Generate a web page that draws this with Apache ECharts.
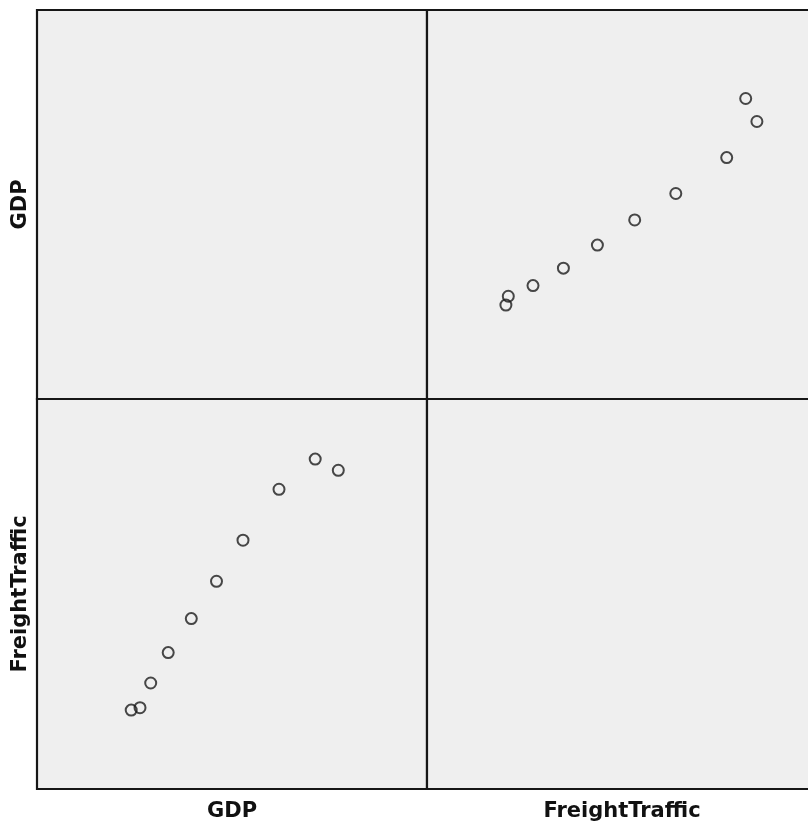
<!DOCTYPE html>
<html>
<head>
<meta charset="utf-8">
<script src="https://cdn.jsdelivr.net/npm/echarts@6/dist/echarts.min.js"></script>
<style>
html,body{margin:0;padding:0;background:#fff;overflow:hidden;width:808px;height:827px;}
#chart{width:818px;height:827px;}
</style>
</head>
<body>
<div id="chart"></div>
<script>
// Variables of the scatter-plot matrix
const variables = ['GDP', 'FreightTraffic'];
const gdp = [942, 1030, 1137, 1312, 1543, 1795, 2060, 2420, 2782, 3013];
const freightTraffic = [789, 813, 1060, 1364, 1704, 2077, 2488, 2997, 3299, 3187];
// Axis ranges used for every cell
const gdpRange = [0, 3900];
const freightRange = [0, 3900];

const chart = echarts.init(document.getElementById('chart'), null, {renderer: 'canvas'});

const cellLeft = [37, 427];
const cellTop = [10, 399];
const cellW = 390;
const cellH = [389, 390];
const seriesData = {GDP: gdp, FreightTraffic: freightTraffic};
const ranges = {GDP: gdpRange, FreightTraffic: freightRange};
const nameFont = {fontFamily: 'DejaVu Sans', fontWeight: 'bold', fontSize: 21, color: '#111'};

const grids = [], xAxes = [], yAxes = [], series = [];
let idx = 0;
for (let r = 0; r < 2; r++) {
  for (let c = 0; c < 2; c++) {
    const xVar = variables[c], yVar = variables[r];
    grids.push({
      left: cellLeft[c], top: cellTop[r], width: cellW, height: cellH[r],
      show: true, backgroundColor: '#efefef', borderColor: '#161616', borderWidth: 2.2
    });
    xAxes.push({
      type: 'value', gridIndex: idx, min: ranges[xVar][0], max: ranges[xVar][1],
      axisLine: {show: false}, axisTick: {show: false}, axisLabel: {show: false}, splitLine: {show: false},
      name: r === 1 ? xVar : '', nameLocation: 'middle', nameGap: 12, nameTextStyle: nameFont
    });
    yAxes.push({
      type: 'value', gridIndex: idx, min: ranges[yVar][0], max: ranges[yVar][1],
      axisLine: {show: false}, axisTick: {show: false}, axisLabel: {show: false}, splitLine: {show: false},
      name: c === 0 ? yVar : '', nameLocation: 'middle', nameGap: 6, nameTextStyle: nameFont
    });
    if (xVar !== yVar) {
      const xs = seriesData[xVar], ys = seriesData[yVar];
      series.push({
        type: 'scatter', xAxisIndex: idx, yAxisIndex: idx,
        data: xs.map((v, i) => [v, ys[i]]),
        symbol: 'circle', symbolSize: 11,
        itemStyle: {color: 'rgba(0,0,0,0)', borderColor: '#1c1c1c', borderWidth: 2},
        silent: true
      });
    }
    idx++;
  }
}

chart.setOption({
  backgroundColor: '#ffffff',
  animation: false,
  grid: grids,
  xAxis: xAxes,
  yAxis: yAxes,
  series: series
});
</script>
</body>
</html>
